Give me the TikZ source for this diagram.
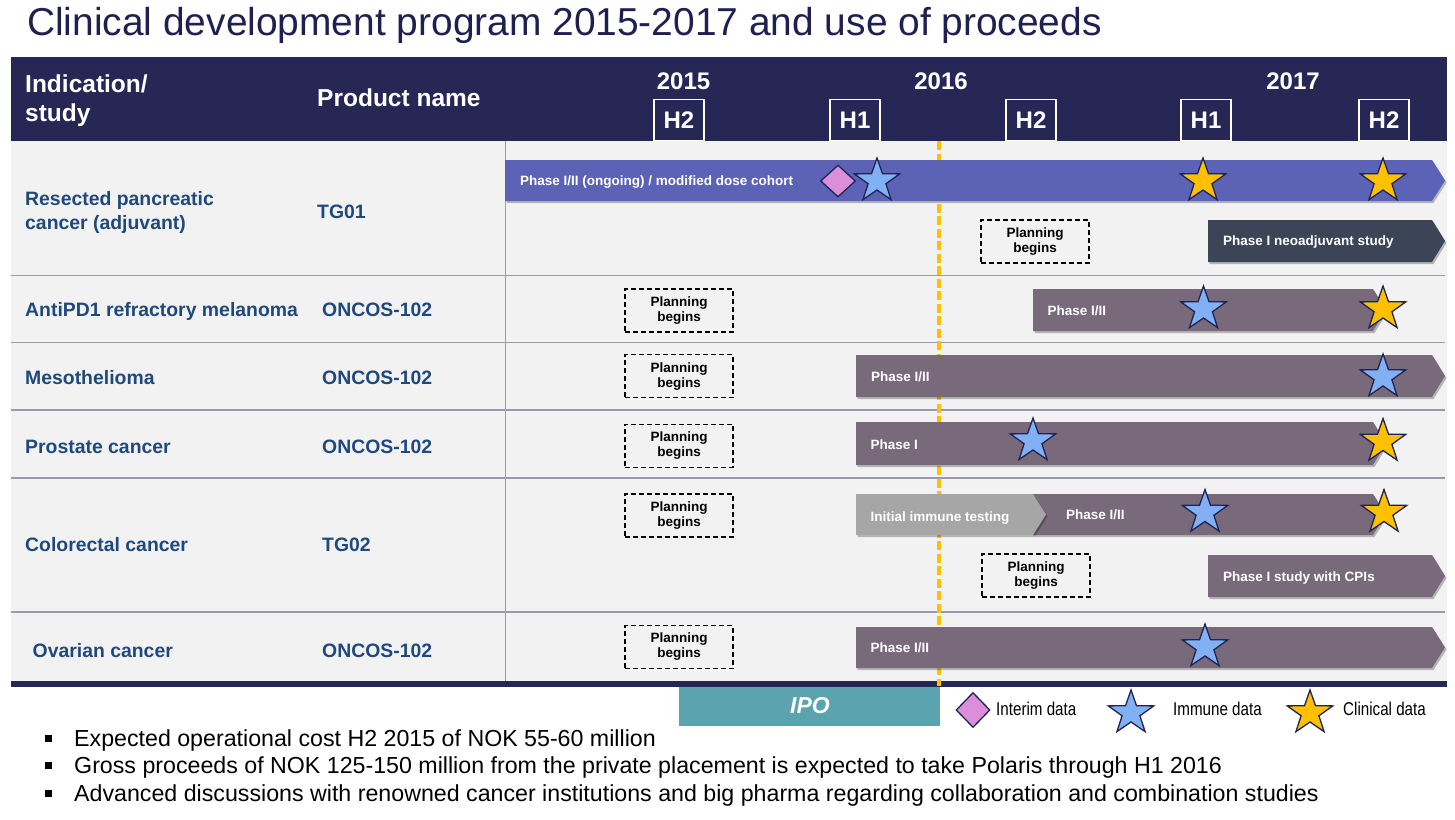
\documentclass[tikz,border=0pt]{standalone}
\usepackage{fontspec}
\setmainfont{Liberation Sans}
\newfontfamily\narrowfont[FakeStretch=0.82]{Liberation Sans}
\usetikzlibrary{shapes.geometric,shadows}

\definecolor{navy}{HTML}{262755}
\definecolor{titlec}{HTML}{1F2050}
\definecolor{bodybg}{HTML}{F2F2F2}
\definecolor{rowline}{HTML}{9A9AAC}
\definecolor{lblue}{HTML}{1F497D}
\definecolor{barblue}{HTML}{5C63B6}
\definecolor{mauve}{HTML}{786A7B}
\definecolor{slate}{HTML}{3B4557}
\definecolor{greybar}{HTML}{A6A6A6}
\definecolor{starblue}{HTML}{82B0F4}
\definecolor{stargold}{HTML}{FFC000}
\definecolor{starline}{HTML}{1F2454}
\definecolor{pinkd}{HTML}{DD8EDB}
\definecolor{ipoteal}{HTML}{5BA3AE}

\tikzset{
  barshadow/.style={drop shadow={shadow xshift=1.5pt, shadow yshift=-2pt, opacity=.25, fill=black}},
  bartext/.style={anchor=base west, text=white, inner sep=0, font=\fontsize{13.5}{15}\selectfont\bfseries},
  rowlabel/.style={anchor=base west, text=lblue, inner sep=0, font=\fontsize{19.4}{23}\selectfont\bfseries},
  headtext/.style={anchor=base west, text=white, inner sep=0, font=\fontsize{24.5}{28}\selectfont\bfseries},
  yeartext/.style={text=white, inner sep=0, font=\fontsize{24}{26}\selectfont\bfseries},
  hbox/.style={draw=white, line width=1.2pt, minimum width=50, minimum height=41.5, inner sep=0, text=white, font=\fontsize{24}{26}\selectfont\bfseries},
  planbox/.style={draw=black, line width=1.1pt, dash pattern=on 5pt off 3pt, minimum width=108, minimum height=43, inner sep=0, align=center, font=\fontsize{13.5}{15}\selectfont\bfseries},
  legendtext/.style={anchor=base west, inner sep=0, font=\narrowfont\fontsize{18.5}{20}\selectfont},
  bullettext/.style={anchor=base west, inner sep=0, font=\fontsize{23.2}{26}\selectfont},
  markdia/.style={diamond, draw=starline, line width=1.3pt, fill=pinkd, inner sep=0},
  pics/mystar/.style={code={
    \filldraw[line width=1.3pt, draw=starline, fill=#1, line join=miter, yscale=-1, xscale=1.04]
      (90:23) -- (126:9) -- (162:23) -- (198:9) -- (234:23) -- (270:9) -- (306:23) -- (342:9) -- (18:23) -- (54:9) -- cycle;}}
}

\begin{document}
\begin{tikzpicture}[x=1pt,y=-1pt]
\useasboundingbox[fill=white] (0,0) rectangle (1455,819);

% title
\node[anchor=base west, inner sep=0, text=titlec, font=\fontsize{38.9}{40}\selectfont] (title) at (27,35) {Clinical development program 2015-2017 and use of proceeds};

% header band
\fill[navy, drop shadow={shadow xshift=0pt, shadow yshift=-3pt, opacity=.25, fill=black}] (11,57) rectangle (1447,141);
\node[headtext] (hind) at (25,92.5) {Indication/};
\node[headtext] (hstudy) at (25,121) {study};
\node[headtext] (hprod) at (317,106.5) {Product name};
\node[yeartext] (y2015) at (683.5,81) {2015};
\node[yeartext] (y2016) at (941,81) {2016};
\node[yeartext] (y2017) at (1293,81) {2017};
\node[hbox] (h1) at (679,120) {H2};
\node[hbox] (h2) at (855,120) {H1};
\node[hbox] (h3) at (1031,120) {H2};
\node[hbox] (h4) at (1206,120) {H1};
\node[hbox] (h5) at (1384,120) {H2};

% body
\fill[bodybg] (11,141) rectangle (1447,681);
\foreach \yy in {275.5,342.5,410,478,612}
  \draw[rowline, line width=1.6pt] (11,\yy) -- (1445,\yy);
\draw[rowline, line width=1pt] (505,141) -- (505,681);
\fill[navy] (11,681) rectangle (1447,686.5);

% IPO dashed line
\draw[stargold, line width=3.5pt, dash pattern=on 9pt off 3.5pt] (939,141) -- (939,686);

% row labels
\node[rowlabel] (l1a) at (25,205) {Resected pancreatic};
\node[rowlabel] (l1b) at (25,229) {cancer (adjuvant)};
\node[rowlabel] (p1) at (317,218) {TG01};
\node[rowlabel] (l2) at (25,316) {AntiPD1 refractory melanoma};
\node[rowlabel] (p2) at (322,316) {ONCOS-102};
\node[rowlabel] (l3) at (25,384.3) {Mesothelioma};
\node[rowlabel] (p3) at (322,384.3) {ONCOS-102};
\node[rowlabel] (l4) at (25,453.3) {Prostate cancer};
\node[rowlabel] (p4) at (322,453.3) {ONCOS-102};
\node[rowlabel] (l5) at (25,551.7) {Colorectal cancer};
\node[rowlabel] (p5) at (322,551.7) {TG02};
\node[rowlabel] (l6) at (32.5,657.3) {Ovarian cancer};
\node[rowlabel] (p6) at (322,657.3) {ONCOS-102};

% bars
\fill[barblue, barshadow] (505,160) -- (1432,160) -- (1445,180.5) -- (1432,201) -- (505,201) -- cycle;
\fill[slate, barshadow] (1208,220) -- (1432,220) -- (1445,241) -- (1432,262) -- (1208,262) -- cycle;
\fill[mauve, barshadow] (1033,289) -- (1373,289) -- (1386,310) -- (1373,331) -- (1033,331) -- cycle;
\fill[mauve, barshadow] (856,355) -- (1432,355) -- (1445,376) -- (1432,397) -- (856,397) -- cycle;
\fill[mauve, barshadow] (856,422) -- (1373,422) -- (1386,443.5) -- (1373,465) -- (856,465) -- cycle;
\fill[mauve, barshadow] (1033,494) -- (1373,494) -- (1386,514.5) -- (1373,535) -- (1033,535) -- cycle;
\fill[greybar, barshadow] (856,494) -- (1033,494) -- (1046,514.5) -- (1033,535) -- (856,535) -- cycle;
\fill[mauve, barshadow] (1208,555) -- (1432,555) -- (1445,576) -- (1432,597) -- (1208,597) -- cycle;
\fill[mauve, barshadow] (856,627) -- (1432,627) -- (1445,647.5) -- (1432,668) -- (856,668) -- cycle;

% bar texts
\node[bartext] (t1) at (520,185.5) {Phase I/II (ongoing) / modified dose cohort};
\node[bartext] (t1b) at (1223,245.7) {Phase I neoadjuvant study};
\node[bartext] (t2) at (1047.5,315) {Phase I/II};
\node[bartext] (t3) at (871,381) {Phase I/II};
\node[bartext] (t4) at (870.5,449) {Phase I};
\node[bartext] (t5a) at (870.5,521) {Initial immune testing};
\node[bartext] (t5b) at (1066,519.5) {Phase I/II};
\node[bartext] (t5c) at (1223,581) {Phase I study with CPIs};
\node[bartext] (t6) at (870.5,652.7) {Phase I/II};

% planning boxes
\node[planbox] (pl1) at (1035,241.5) {Planning\\begins};
\node[planbox] (pl2) at (679,310.5) {Planning\\begins};
\node[planbox] (pl3) at (679,376.3) {Planning\\begins};
\node[planbox] (pl4) at (679,445.8) {Planning\\begins};
\node[planbox] (pl5) at (679,515.5) {Planning\\begins};
\node[planbox] (pl5b) at (1036,575.5) {Planning\\begins};
\node[planbox] (pl6) at (679,647) {Planning\\begins};

% markers
\node[markdia, minimum width=35, minimum height=32] (d1) at (838,181) {};
\pic at (877,181) {mystar=starblue};
\pic at (1203,181) {mystar=stargold};
\pic at (1383,181) {mystar=stargold};
\pic at (1203.5,309) {mystar=starblue};
\pic at (1383,309) {mystar=stargold};
\pic at (1383,377) {mystar=starblue};
\pic at (1033,441) {mystar=starblue};
\pic at (1383,441.5) {mystar=stargold};
\pic at (1205,512.5) {mystar=starblue};
\pic at (1384,512.5) {mystar=stargold};
\pic at (1205,647) {mystar=starblue};

% legend
\fill[ipoteal] (679,686.5) rectangle (940,726);
\node[text=white, inner sep=0, font=\fontsize{23}{24}\selectfont\bfseries\itshape] (ipo) at (810,706) {IPO};
\node[markdia, minimum width=34, minimum height=35] (dleg) at (973,710) {};
\pic at (1131,713) {mystar=starblue};
\node[legendtext] (lg1) at (996,715.5) {Interim data};
\pic at (1310,713) {mystar=stargold};
\node[legendtext] (lg2) at (1173,715.5) {Immune data};
\node[legendtext] (lg3) at (1343,715.5) {Clinical data};

% bullets
\fill[black] (45,734.5) rectangle (52,741.5);
\fill[black] (45,762.2) rectangle (52,769.2);
\fill[black] (45,789.8) rectangle (52,796.8);
\node[bullettext] (b1) at (74,746) {Expected operational cost H2 2015 of NOK 55-60 million};
\node[bullettext] (b2) at (74,773.7) {Gross proceeds of NOK 125-150 million from the private placement is expected to take Polaris through H1 2016};
\node[bullettext] (b3) at (74,801.3) {Advanced discussions with renowned cancer institutions and big pharma regarding collaboration and combination studies};
\end{tikzpicture}
\end{document}
